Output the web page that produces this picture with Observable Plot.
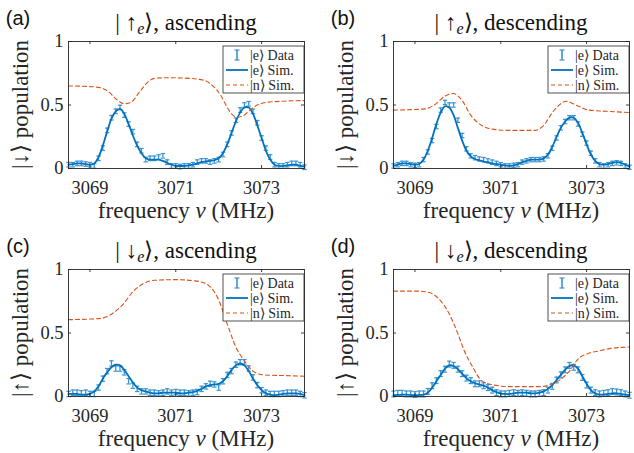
<!DOCTYPE html>
<html><head><meta charset="utf-8">
<script src="https://cdn.jsdelivr.net/npm/d3@7"></script>
<script src="https://cdn.jsdelivr.net/npm/@observablehq/plot@0.6"></script>
<style>
body{margin:0;background:#fff;}
#wrap{position:relative;width:634px;height:453px;overflow:hidden;background:#fff;}
.panel{position:absolute;}
.panel svg{overflow:visible;display:block;}
</style></head><body><div id="wrap"></div>
<script>
// ---- data ----
const freq = [3068.5,3068.6,3068.7,3068.8,3068.9,3069.0,3069.1,3069.2,3069.3,3069.4,
  3069.5,3069.6,3069.7,3069.8,3069.9,3070.0,3070.1,3070.2,3070.3,3070.4,
  3070.5,3070.6,3070.7,3070.8,3070.9,3071.0,3071.1,3071.2,3071.3,3071.4,
  3071.5,3071.6,3071.7,3071.8,3071.9,3072.0,3072.1,3072.2,3072.3,3072.4,
  3072.5,3072.6,3072.7,3072.8,3072.9,3073.0,3073.1,3073.2,3073.3,3073.4,
  3073.5,3073.6,3073.7,3073.8,3073.9,3074.0];
const xTicks = [3069, 3071, 3073];
const yTicks = [0, 0.5, 1];

// (a) |up_e>, ascending
const dataA = [0.03,0.03,0.04,0.04,0.035, 0.03,0.02,0.08,0.16,0.30, 0.40,0.45,0.48,0.42,0.35,
  0.29,0.19,0.14,0.07,0.08, 0.08,0.09,0.10,0.05,0.02, 0.02,0.015,0.02,0.02,0.03,
  0.05,0.06,0.06,0.05,0.06, 0.07,0.11,0.19,0.28,0.38, 0.46,0.50,0.51,0.45,0.36,
  0.24,0.16,0.09,0.03,0.02, 0.02,0.03,0.04,0.04,0.03,0.01];
const simA = [0.03,0.035,0.04,0.04,0.035, 0.03,0.04,0.09,0.18,0.29, 0.39,0.45,0.47,0.43,0.35,
  0.26,0.18,0.12,0.08,0.07, 0.07,0.07,0.06,0.045,0.03, 0.02,0.02,0.02,0.025,0.03,
  0.04,0.05,0.055,0.06,0.065, 0.08,0.12,0.19,0.28,0.37, 0.44,0.48,0.48,0.43,0.34,
  0.24,0.14,0.07,0.03,0.02, 0.02,0.025,0.03,0.03,0.02,0.015];
const nFreqA = [3068.5,3069.0,3069.25,3069.45,3069.6,3069.8,3069.95,3070.15,3070.35,3070.5,3070.8,3071.3,3071.65,3071.85,3072.05,3072.2,3072.3,3072.42,3072.57,3072.73,3072.9,3073.1,3073.5,3074.0];
const nSimA = [0.65,0.645,0.635,0.60,0.55,0.51,0.52,0.60,0.68,0.71,0.715,0.71,0.695,0.655,0.575,0.48,0.43,0.405,0.415,0.46,0.50,0.52,0.53,0.535];

// (b) |up_e>, descending
const dataB = [0.02,0.03,0.04,0.04,0.03, 0.025,0.03,0.07,0.13,0.22, 0.33,0.46,0.52,0.50,0.50,
  0.38,0.26,0.155,0.10,0.085, 0.075,0.07,0.06,0.05,0.04, 0.03,0.02,0.02,0.025,0.03,
  0.05,0.06,0.07,0.07,0.07, 0.075,0.10,0.16,0.24,0.32, 0.37,0.40,0.40,0.35,0.27,
  0.20,0.12,0.06,0.03,0.02, 0.03,0.04,0.045,0.04,0.02,0.01];
const simB = [0.02,0.03,0.04,0.04,0.035, 0.03,0.035,0.07,0.14,0.24, 0.35,0.44,0.49,0.48,0.42,
  0.32,0.22,0.14,0.095,0.075, 0.065,0.055,0.05,0.04,0.035, 0.03,0.025,0.02,0.025,0.035,
  0.05,0.06,0.07,0.07,0.07, 0.08,0.11,0.17,0.25,0.32, 0.37,0.40,0.40,0.36,0.28,
  0.19,0.11,0.06,0.035,0.03, 0.035,0.045,0.05,0.045,0.03,0.015];
const nFreqB = [3068.5,3069.0,3069.25,3069.45,3069.7,3069.9,3070.1,3070.3,3070.55,3070.8,3071.2,3071.8,3072.0,3072.2,3072.4,3072.52,3072.75,3073.05,3073.5,3074.0];
const nSimB = [0.46,0.465,0.47,0.50,0.57,0.59,0.535,0.42,0.34,0.31,0.30,0.30,0.34,0.44,0.51,0.53,0.50,0.46,0.45,0.44];

// (c) |down_e>, ascending
const dataC = [0.02,0.03,0.03,0.025,0.03, 0.02,0.02,0.07,0.14,0.20, 0.26,0.22,0.22,0.19,0.12,
  0.085,0.06,0.04,0.04,0.03, 0.03,0.025,0.03,0.04,0.03, 0.035,0.03,0.03,0.025,0.03,
  0.035,0.06,0.08,0.10,0.095, 0.07,0.12,0.17,0.20,0.25, 0.27,0.27,0.22,0.15,0.09,
  0.05,0.03,0.02,0.02,0.02, 0.025,0.03,0.03,0.03,0.02,0.01];
const simC = [0.02,0.02,0.02,0.015,0.015, 0.02,0.04,0.08,0.14,0.19, 0.23,0.25,0.245,0.21,0.16,
  0.11,0.07,0.05,0.04,0.03, 0.025,0.025,0.03,0.03,0.03, 0.03,0.025,0.025,0.03,0.035,
  0.045,0.06,0.08,0.09,0.095, 0.10,0.12,0.16,0.21,0.245, 0.26,0.245,0.20,0.14,0.09,
  0.05,0.025,0.015,0.01,0.015, 0.02,0.025,0.025,0.025,0.02,0.01];
const nFreqC = [3068.5,3069.0,3069.25,3069.4,3069.55,3069.78,3070.0,3070.25,3070.5,3071.0,3071.55,3071.8,3072.0,3072.2,3072.4,3072.6,3072.8,3073.05,3073.5,3074.0];
const nSimC = [0.605,0.61,0.615,0.63,0.66,0.73,0.825,0.89,0.915,0.92,0.905,0.865,0.76,0.57,0.39,0.28,0.20,0.17,0.165,0.16];

// (d) |down_e>, descending
const dataD = [0.02,0.025,0.025,0.02,0.02, 0.015,0.02,0.02,0.04,0.085, 0.125,0.18,0.215,0.255,0.245,
  0.215,0.18,0.145,0.125,0.10, 0.10,0.085,0.07,0.05,0.03, 0.02,0.02,0.025,0.03,0.025,
  0.03,0.025,0.02,0.02,0.025, 0.03,0.05,0.08,0.13,0.17, 0.21,0.245,0.23,0.21,0.15,
  0.09,0.05,0.03,0.02,0.025, 0.03,0.04,0.035,0.03,0.02,0.01];
const simD = [0.01,0.012,0.015,0.015,0.012, 0.01,0.012,0.015,0.03,0.07, 0.12,0.17,0.22,0.245,0.24,
  0.215,0.18,0.145,0.12,0.105, 0.095,0.085,0.07,0.05,0.035, 0.025,0.02,0.02,0.025,0.03,
  0.03,0.03,0.025,0.025,0.03, 0.04,0.06,0.09,0.13,0.17, 0.21,0.24,0.245,0.22,0.16,
  0.10,0.05,0.025,0.015,0.015, 0.02,0.025,0.025,0.02,0.015,0.01];
const nFreqD = [3068.5,3069.0,3069.25,3069.45,3069.62,3069.8,3070.0,3070.15,3070.35,3070.55,3070.8,3071.2,3071.95,3072.15,3072.35,3072.6,3072.8,3073.05,3073.3,3073.5,3074.0];
const nSimD = [0.83,0.83,0.825,0.80,0.745,0.65,0.495,0.36,0.23,0.125,0.093,0.078,0.078,0.093,0.125,0.20,0.295,0.34,0.36,0.375,0.39];

const errBars = [0.018, 0.017, 0.021, 0.023];
const panelLabels = ["(a)", "(b)", "(c)", "(d)"];
const spins = ["↑", "↑", "↓", "↓"];
const sweeps = ["ascending", "descending", "ascending", "descending"];
const yArrows = ["↓", "↓", "↑", "↑"];
const legendLabels = ["|e⟩ Data", "|e⟩ Sim.", "|n⟩ Sim."];

// ---- style ----
const SERIF = "'Liberation Serif', serif";
const SANS = "'Liberation Sans', Arial, sans-serif";
const INK = "#262626";
const BLUE = "#0072BD";
const EBLUE = "#3b93d1";
const ORANGE = "#D95319";

const layout = [
  {left: 0,   top: 0,   w: 317, h: 226, mr: 13, mb: 58},
  {left: 325, top: 0,   w: 309, h: 226, mr: 5,  mb: 58},
  {left: 0,   top: 228, w: 317, h: 225, mr: 13, mb: 57},
  {left: 325, top: 228, w: 309, h: 225, mr: 5,  mb: 57}
];
const ML = 68, MT = 41;

const datas = [dataA, dataB, dataC, dataD];
const sims = [simA, simB, simC, simD];
const nFreqs = [nFreqA, nFreqB, nFreqC, nFreqD];
const nSims = [nSimA, nSimB, nSimC, nSimD];

const capSymbol = {
  draw(ctx, size) { const r = Math.sqrt(size / Math.PI); ctx.moveTo(-r, 0); ctx.lineTo(r, 0); }
};

const wrap = document.getElementById("wrap");

layout.forEach((L, k) => {
  const err = errBars[k];
  const rows = freq.map((f, i) => ({f, v: datas[k][i]}));
  const simRows = freq.map((f, i) => ({f, v: sims[k][i]}));
  const nRows = nFreqs[k].map((f, i) => ({f, v: nSims[k][i]}));
  const boxW = L.w - ML - L.mr, boxH = L.h - MT - L.mb;

  const svg = Plot.plot({
    width: L.w, height: L.h,
    marginLeft: ML, marginRight: L.mr, marginTop: MT, marginBottom: L.mb,
    style: {background: "transparent", overflow: "visible"},
    x: {domain: [3068.5, 3074], label: null, axis: null},
    y: {domain: [0, 1], label: null, axis: null},
    marks: [
      Plot.ruleX(rows, {x: "f", y1: d => d.v - err, y2: d => d.v + err, stroke: EBLUE, strokeWidth: 1.3}),
      Plot.dot(rows, {x: "f", y: d => d.v - err, symbol: capSymbol, r: 2.2, fill: "none", stroke: EBLUE, strokeWidth: 1.2}),
      Plot.dot(rows, {x: "f", y: d => d.v + err, symbol: capSymbol, r: 2.2, fill: "none", stroke: EBLUE, strokeWidth: 1.2}),
      Plot.line(simRows, {x: "f", y: "v", stroke: BLUE, strokeWidth: 1.8, curve: "catmull-rom"}),
      Plot.line(nRows, {x: "f", y: "v", stroke: ORANGE, strokeWidth: 1.1, strokeDasharray: "4,3", curve: "monotone-x"}),
      Plot.frame({stroke: INK, strokeWidth: 0.9}),
      Plot.tickX(xTicks, {x: d => d, insetTop: boxH - 3, stroke: INK, strokeWidth: 0.9}),
      Plot.tickX(xTicks, {x: d => d, insetBottom: boxH - 3, stroke: INK, strokeWidth: 0.9}),
      Plot.tickY(yTicks, {y: d => d, insetRight: boxW - 3, stroke: INK, strokeWidth: 0.9}),
      Plot.tickY(yTicks, {y: d => d, insetLeft: boxW - 3, stroke: INK, strokeWidth: 0.9}),
      Plot.axisX(xTicks, {tickSize: 0, tickPadding: 12, label: null, tickFormat: d => String(d)}),
      Plot.axisY(yTicks, {tickSize: 0, tickPadding: 5, label: null, tickFormat: d => String(d)})
    ]
  });

  const div = document.createElement("div");
  div.className = "panel";
  div.style.left = L.left + "px";
  div.style.top = L.top + "px";
  div.appendChild(svg);
  wrap.appendChild(div);

  const sel = d3.select(svg);
  sel.selectAll("text").style("font-family", SERIF).style("font-size", "18.5px").style("fill", INK);

  const g = sel.append("g");
  const cx = ML + boxW / 2;
  const boxR = ML + boxW;
  const boxB = MT + boxH;

  // panel label
  g.append("text").attr("x", ML - 50).attr("y", 25).attr("text-anchor", "middle")
    .style("font-family", SANS).style("font-size", "20px").style("fill", "#111").text(panelLabels[k]);

  // title
  const t = g.append("text").attr("x", cx).attr("y", 30).attr("text-anchor", "middle")
    .style("font-family", SERIF).style("font-size", "23px").style("fill", "#111");
  t.append("tspan").text("| " + spins[k]);
  t.append("tspan").style("font-style", "italic").style("font-size", "16px").attr("dy", 4).text("e");
  t.append("tspan").attr("dy", -4).text("⟩, " + sweeps[k]);

  // y label
  g.append("text").attr("transform", `translate(${ML - 48},${MT + boxH / 2}) rotate(-90)`)
    .attr("text-anchor", "middle").attr("dy", "0.35em")
    .style("font-family", SERIF).style("font-size", "23px").style("fill", INK)
    .text("|" + yArrows[k] + "⟩ population");

  // x label
  const xl = g.append("text").attr("x", cx).attr("y", boxB + 50).attr("text-anchor", "middle")
    .style("font-family", SERIF).style("font-size", "23px").style("fill", INK);
  xl.append("tspan").text("frequency ");
  xl.append("tspan").style("font-style", "italic").text("ν");
  xl.append("tspan").text(" (MHz)");

  // legend
  const lw = 81, lh = 47;
  const lx = boxR - lw, ly = MT + 5;
  const lg = g.append("g").attr("transform", `translate(${lx},${ly})`);
  lg.append("rect").attr("x", 0).attr("y", 0).attr("width", lw).attr("height", lh)
    .attr("fill", "#fff").attr("stroke", INK).attr("stroke-width", 0.8);
  const rowsY = [9, 24, 39];
  lg.append("line").attr("x1", 14).attr("x2", 14).attr("y1", rowsY[0] - 5).attr("y2", rowsY[0] + 5).attr("stroke", EBLUE).attr("stroke-width", 1.6);
  lg.append("line").attr("x1", 11.5).attr("x2", 16.5).attr("y1", rowsY[0] - 5).attr("y2", rowsY[0] - 5).attr("stroke", EBLUE).attr("stroke-width", 1.2);
  lg.append("line").attr("x1", 11.5).attr("x2", 16.5).attr("y1", rowsY[0] + 5).attr("y2", rowsY[0] + 5).attr("stroke", EBLUE).attr("stroke-width", 1.2);
  lg.append("line").attr("x1", 3).attr("x2", 25).attr("y1", rowsY[1]).attr("y2", rowsY[1]).attr("stroke", BLUE).attr("stroke-width", 1.8);
  lg.append("line").attr("x1", 3).attr("x2", 25).attr("y1", rowsY[2]).attr("y2", rowsY[2]).attr("stroke", ORANGE).attr("stroke-width", 1.1).attr("stroke-dasharray", "4,3");
  legendLabels.forEach((s, i) => {
    lg.append("text").attr("x", 27).attr("y", rowsY[i] + 4.5).attr("text-anchor", "start")
      .style("font-family", SERIF).style("font-size", "14px").style("fill", INK).text(s);
  });
});
</script>
</body></html>
